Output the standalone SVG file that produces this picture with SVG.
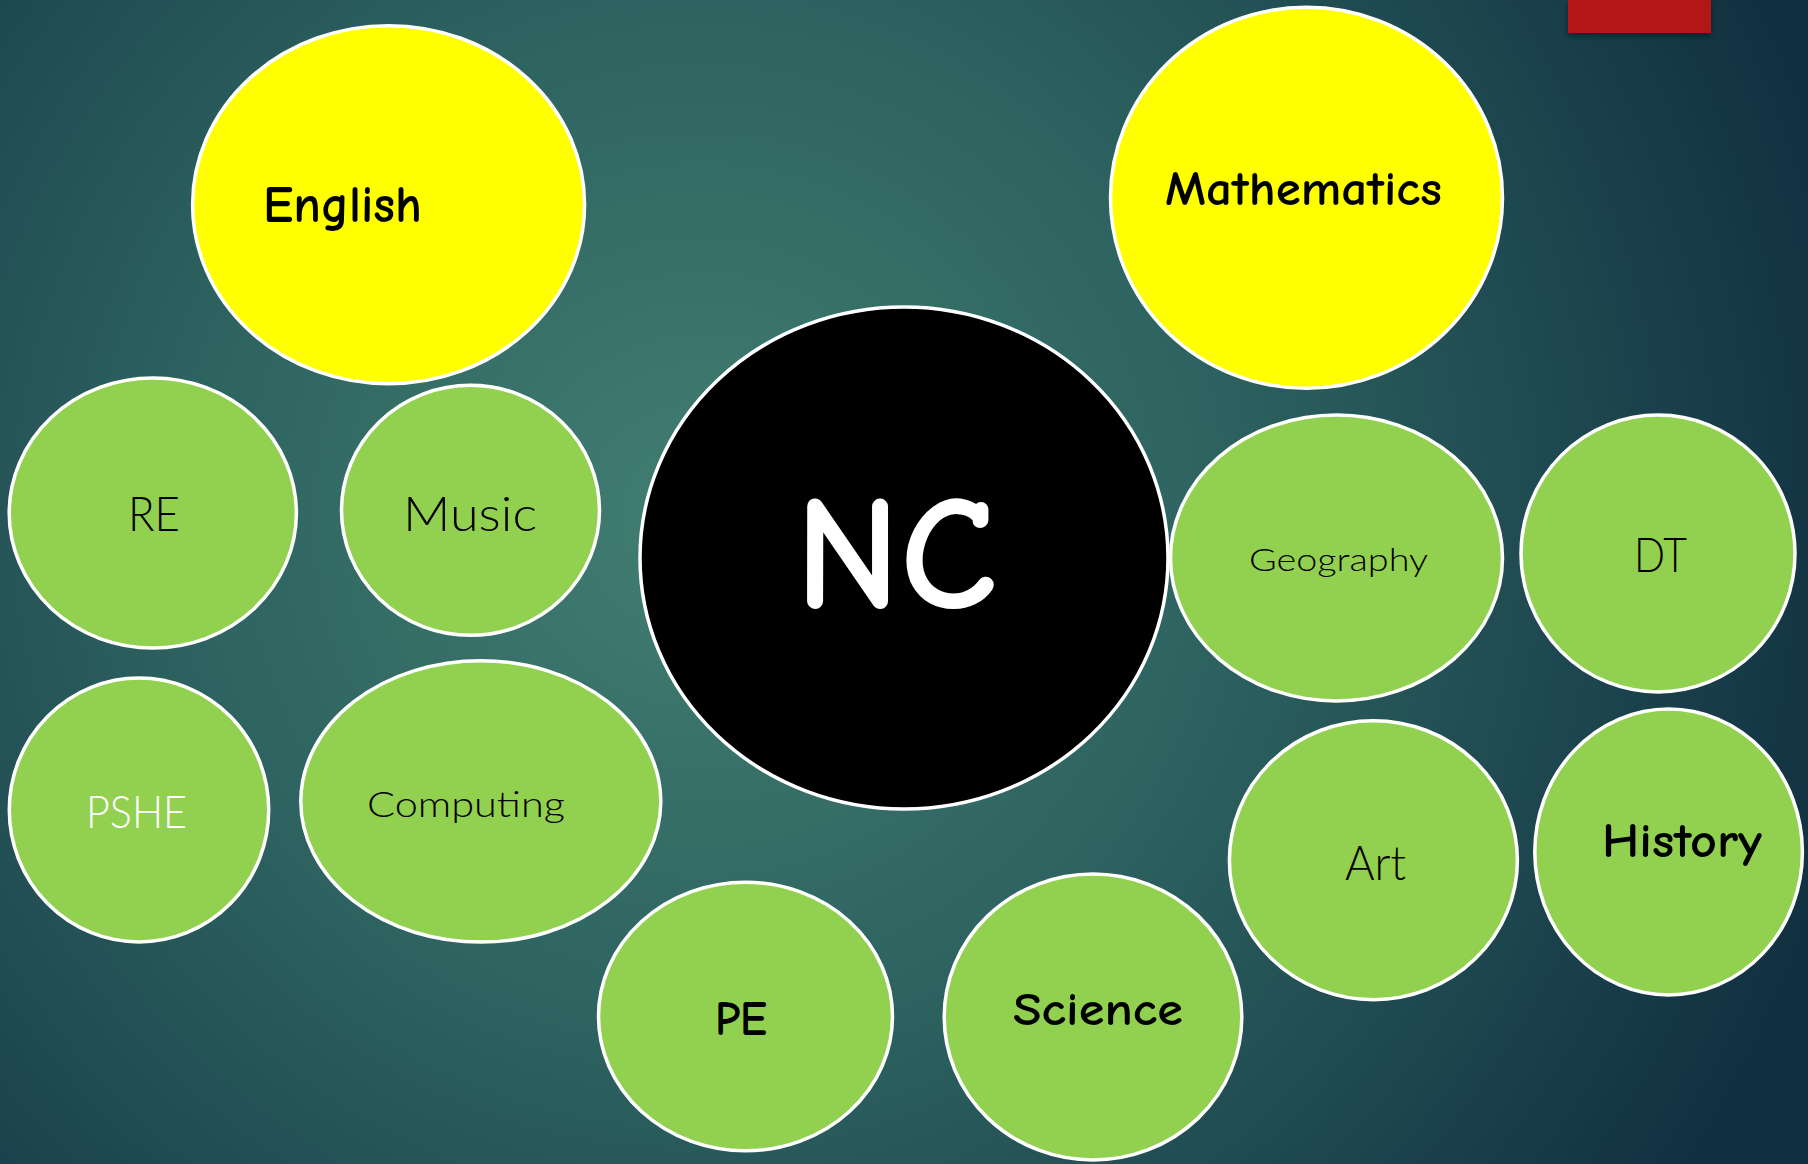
<svg xmlns="http://www.w3.org/2000/svg" width="1808" height="1164" viewBox="0 0 1808 1164">
<defs>
<radialGradient id="bg" cx="700" cy="520" r="1200" gradientUnits="userSpaceOnUse">
<stop offset="0" stop-color="#427e72"/>
<stop offset="0.45" stop-color="#2c615f"/>
<stop offset="1" stop-color="#102f40"/>
</radialGradient>
<filter id="sh" x="-20%" y="-20%" width="140%" height="160%">
<feDropShadow dx="0" dy="3" stdDeviation="3" flood-color="#000" flood-opacity="0.45"/>
</filter>
<style>
.n{stroke:#ffffff;stroke-width:3.5}
.y{fill:#ffff00}
.g{fill:#92d050}
.k{fill:#000000}
.c{font-family:"Comic Neue","Comic Sans MS","DejaVu Sans",sans-serif;font-weight:700;fill:#000}
.s{font-family:"Lato","Noto Sans","Liberation Sans",sans-serif;font-weight:300;fill:#000}
</style>
</defs>
<rect width="1808" height="1164" fill="url(#bg)"/>
<rect x="1568" y="0" width="143" height="33" fill="#b21815" filter="url(#sh)"/>
<g id="connectors"/>
<g id="english"><ellipse class="n y" cx="388.6" cy="204.7" rx="196" ry="179"/><text class="c" x="263" y="222" font-size="52" textLength="159" lengthAdjust="spacingAndGlyphs">English</text></g>
<g id="mathematics"><ellipse class="n y" cx="1306.5" cy="197.8" rx="196" ry="190.5"/><text class="c" x="1165" y="205" font-size="48" textLength="277" lengthAdjust="spacingAndGlyphs">Mathematics</text></g>
<g id="nc"><ellipse class="n k" cx="904" cy="558" rx="264" ry="251"/><text class="c" x="795" y="608" font-size="162" style="fill:#ffffff" textLength="202" lengthAdjust="spacingAndGlyphs">NC</text></g>
<g id="re"><ellipse class="n g" cx="152.8" cy="513" rx="143.6" ry="135"/><text class="s" x="128" y="531" font-size="47" textLength="52" lengthAdjust="spacingAndGlyphs">RE</text></g>
<g id="music"><ellipse class="n g" cx="470.5" cy="510.3" rx="129" ry="125"/><text class="s" x="403" y="531" font-size="47" textLength="134" lengthAdjust="spacingAndGlyphs">Music</text></g>
<g id="geography"><ellipse class="n g" cx="1336.5" cy="558" rx="166" ry="143"/><text class="s" x="1249" y="571" font-size="32" textLength="179" lengthAdjust="spacingAndGlyphs">Geography</text></g>
<g id="dt"><ellipse class="n g" cx="1658" cy="553.5" rx="137" ry="138.4"/><text class="s" x="1634" y="572" font-size="48" textLength="53" lengthAdjust="spacingAndGlyphs">DT</text></g>
<g id="pshe"><ellipse class="n g" cx="139" cy="810" rx="129.7" ry="132"/><text class="s" x="86" y="828" font-size="46" style="fill:#ffffff" textLength="101" lengthAdjust="spacingAndGlyphs">PSHE</text></g>
<g id="computing"><ellipse class="n g" cx="480.8" cy="801.4" rx="180" ry="140.7"/><text class="s" x="367" y="817" font-size="36" textLength="198" lengthAdjust="spacingAndGlyphs">Computing</text></g>
<g id="pe"><ellipse class="n g" cx="745.5" cy="1016.5" rx="147" ry="134.3"/><text class="c" x="715" y="1035" font-size="48" textLength="52" lengthAdjust="spacingAndGlyphs">PE</text></g>
<g id="science"><ellipse class="n g" cx="1093" cy="1017" rx="148.8" ry="143"/><text class="c" x="1013" y="1025" font-size="46" textLength="170" lengthAdjust="spacingAndGlyphs">Science</text></g>
<g id="art"><ellipse class="n g" cx="1373.4" cy="860.2" rx="144" ry="139.5"/><text class="s" x="1345" y="880" font-size="48" textLength="61" lengthAdjust="spacingAndGlyphs">Art</text></g>
<g id="history"><ellipse class="n g" cx="1668.6" cy="852" rx="133.8" ry="143"/><text class="c" x="1602" y="857" font-size="48" textLength="160" lengthAdjust="spacingAndGlyphs">History</text></g>
</svg>
